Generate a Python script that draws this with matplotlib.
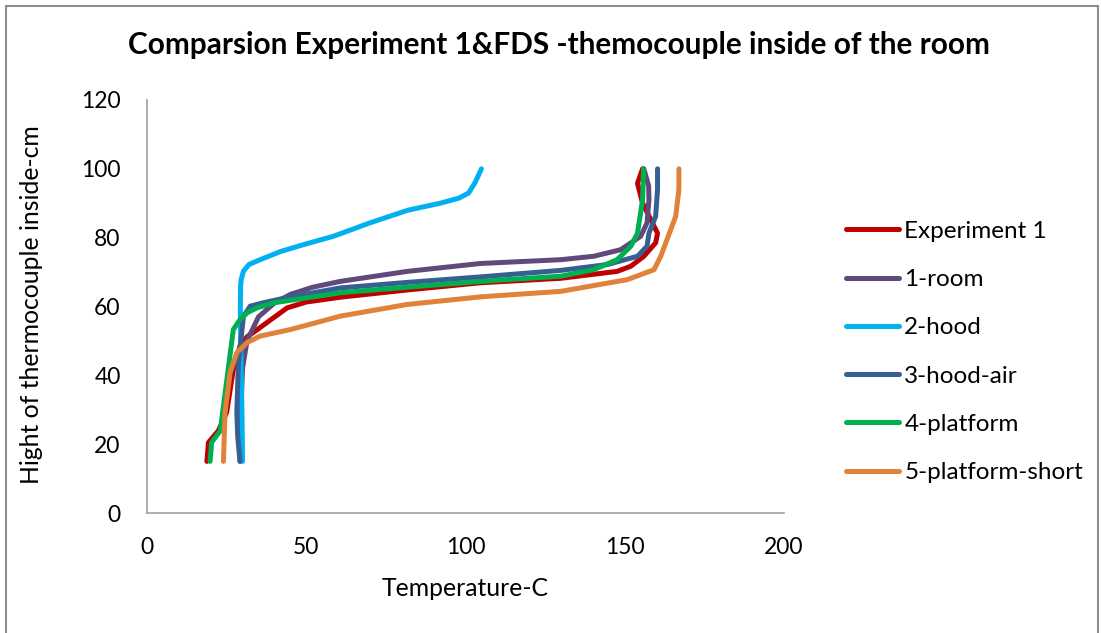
import matplotlib.pyplot as plt
from matplotlib.patches import Rectangle

# thermocouple readings (temperature in C, height in cm)
exp1_temp = [18.8, 19.3, 22.4, 25, 27.1, 29.2, 31.4, 34.5, 37.6, 44, 50, 60.7, 81.7, 104.7, 130, 147.6, 151.9, 156, 159.7, 160.3, 158.2, 155.6, 154, 155.6]
exp1_hgt = [15, 20.5, 23.9, 29.2, 41.7, 48.5, 51.2, 53.2, 55.3, 59.6, 61.3, 62.7, 64.8, 66.9, 68.2, 70.2, 71.7, 74.6, 78.5, 81.3, 85.2, 90, 95.8, 100]

room_temp = [29.2, 29.5, 30, 31.4, 35, 40, 45, 52, 60.7, 81.7, 104.7, 129.9, 140.3, 148.7, 155, 157, 157.6, 157.5, 156]
room_hgt = [15, 30, 42, 50, 57, 61, 63.5, 65.6, 67.3, 70.2, 72.5, 73.6, 74.6, 76.5, 80.4, 84.3, 91, 95, 100]

hood_temp = [30, 29.8, 29.5, 29.3, 29.4, 29.6, 30.3, 32, 35.5, 42, 50, 58.5, 70, 82, 92, 98, 101, 103, 105]
hood_hgt = [15, 30, 45, 60, 66, 68, 70.3, 72.2, 73.6, 76, 78.2, 80.4, 84.3, 88, 90, 91.5, 93, 96, 100]

hoodair_temp = [29.2, 28.5, 28.2, 28.7, 30.3, 32.4, 36.6, 45, 60.7, 81.7, 104.7, 130, 144.6, 154, 157, 157.6, 159.7, 160.3, 160.3]
hoodair_hgt = [15, 22, 29.2, 43.7, 57.2, 60.1, 61.1, 62.8, 65.4, 67, 68.6, 70.5, 72.2, 74.6, 77.5, 81.3, 86.2, 94, 100]

plat_temp = [19.8, 20.3, 23, 27.1, 29.2, 31.5, 34.5, 40, 60.7, 81.7, 104.7, 129.9, 140.3, 147.6, 151.9, 154, 155.6, 155.9]
plat_hgt = [15, 20.5, 23.9, 53.3, 56.2, 58.2, 59.6, 61.1, 64, 65.6, 67.3, 68.8, 70.7, 73.6, 77.5, 81.3, 91, 100]

short_temp = [24, 24.5, 26.1, 28.2, 31.4, 35.5, 45, 60.7, 81.7, 104.7, 129.9, 150.8, 159.2, 161.3, 166, 167, 167]
short_hgt = [15, 29.2, 40.8, 46.6, 49.5, 51.4, 53.3, 57.2, 60.6, 62.8, 64.4, 67.8, 70.7, 74.6, 86.2, 94, 100]

series = [
    ('Experiment 1', exp1_temp, exp1_hgt, '#C00000'),
    ('1-room', room_temp, room_hgt, '#604A7B'),
    ('2-hood', hood_temp, hood_hgt, '#00B0F0'),
    ('3-hood-air', hoodair_temp, hoodair_hgt, '#376092'),
    ('4-platform', plat_temp, plat_hgt, '#00B050'),
    ('5-platform-short', short_temp, short_hgt, '#E0823A'),
]

plt.rcParams['font.family'] = ['Lato', 'DejaVu Sans']

fig = plt.figure(figsize=(11.01, 6.33), dpi=100)
ax = fig.add_axes([147 / 1101, 1 - 513 / 633, (784 - 147) / 1101, (513 - 100) / 633])

for name, t, h, col in series:
    ax.plot(t, h, color=col, linewidth=3.6, solid_capstyle='round',
            solid_joinstyle='round', label=name)

ax.set_xlim(0, 200)
ax.set_ylim(0, 120)
ax.set_xticks([0, 50, 100, 150, 200])
ax.set_yticks([0, 20, 40, 60, 80, 100, 120])
ax.tick_params(axis='y', length=0, pad=19, labelsize=16.5)
ax.tick_params(axis='x', length=0, pad=17, labelsize=16.5)
for s in ['top', 'right']:
    ax.spines[s].set_visible(False)
for s in ['left', 'bottom']:
    ax.spines[s].set_color('#A0A0A0')
    ax.spines[s].set_linewidth(1.2)

fig.text(559 / 1101, 1 - 45 / 633, 'Comparsion Experiment 1&FDS -themocouple inside of the room',
         ha='center', va='center', fontsize=21.4, fontweight='bold')
fig.text(465 / 1101, 1 - 588 / 633, 'Temperature-C', ha='center', va='center', fontsize=17.8)
fig.text(32 / 1101, 1 - 305 / 633, 'Hight of thermocouple inside-cm', ha='center', va='center',
         rotation=90, fontsize=17.8)

fig.legend(loc='center left', bbox_to_anchor=(846 / 1101, 1 - 352 / 633), frameon=False,
           fontsize=17.5, handlelength=2.2, handletextpad=0.2, labelspacing=1.12,
           borderpad=0, borderaxespad=0)

# chart area border
fig.patches.append(Rectangle((6 / 1101, -0.05), 1092 / 1101, 1.05 - 6 / 633, transform=fig.transFigure,
                             fill=False, edgecolor='#8C8C8C', linewidth=1.5))

plt.savefig('out.png', dpi=100)
